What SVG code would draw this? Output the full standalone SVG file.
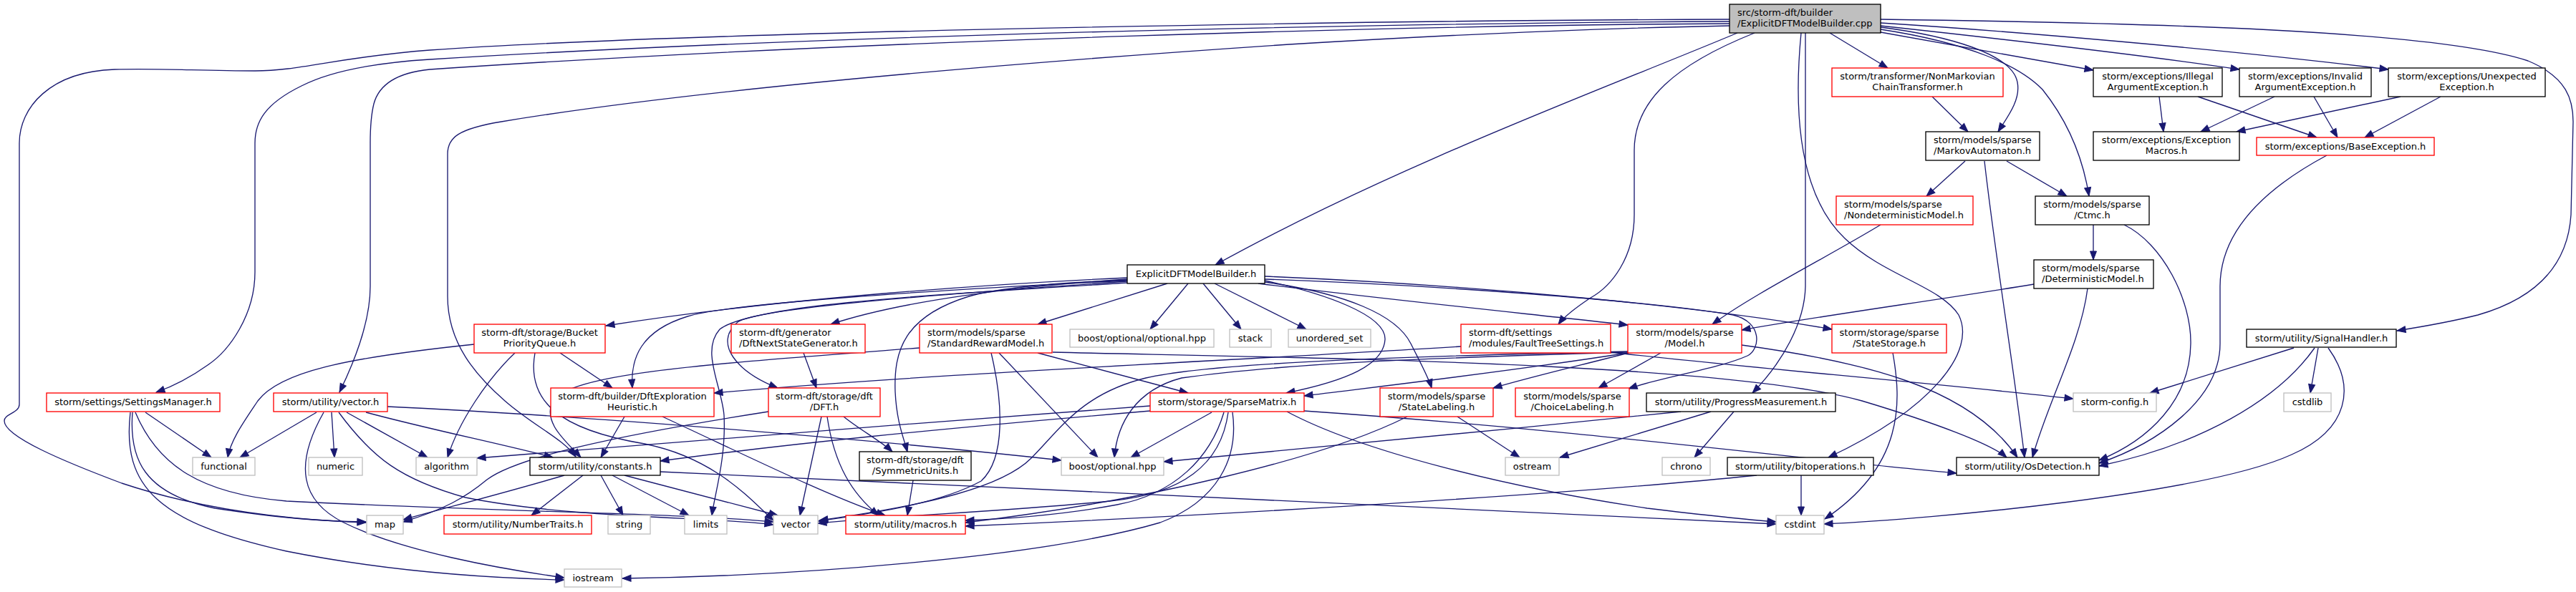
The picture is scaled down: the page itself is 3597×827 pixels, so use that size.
<svg xmlns="http://www.w3.org/2000/svg" width="3597" height="827" viewBox="0 0 3597 827">
<style>
text{font-family:"DejaVu Sans","Liberation Sans",sans-serif;font-size:13px;fill:#000}
.c{text-anchor:middle}
rect.b{fill:#fff;stroke:#000;stroke-width:1.33}
rect.r{fill:#fff;stroke:#ff0000;stroke-width:1.33}
rect.g{fill:#fff;stroke:#bfbfbf;stroke-width:1.33}
rect.root{fill:#bfbfbf;stroke:#000;stroke-width:1.33}
#edges path{fill:none;stroke:#191970;stroke-width:1.33;marker-end:url(#a)}
</style>
<defs>
<marker id="a" markerUnits="userSpaceOnUse" markerWidth="14" markerHeight="11" refX="12" refY="4.5" orient="auto" overflow="visible">
<path d="M0,0 L12,4.5 L0,9 z" fill="#191970" stroke="#191970" stroke-width="1"/>
</marker>
</defs>
<rect width="3597" height="827" fill="#fff"/>
<g id="edges">
<path d="M2426,46 C2250,120 1950,230 1697,370"/>
<path d="M2415,27 C2000,28 1000,42 600,70 C470,80 420,99 356,99 C280,99 220,95 160,97 C70,100 27,150 27,200 L27,565 C27,577 6,578 6,588 C6,610 90,645 170,675 C290,715 420,727 511,730"/>
<path d="M2415,30 C2000,32 1200,46 600,83 C520,88 460,100 421,120 C370,145 356,170 356,200 L356,380 C356,440 320,490 290,510 C265,528 240,540 218,548"/>
<path d="M2415,33 C2000,35 1200,56 600,97 C560,101 530,115 522,145 C517,165 517,190 517,200 L517,400 C517,450 495,505 474,548"/>
<path d="M2415,36 C2200,40 2000,50 1800,62 C1500,82 1000,120 700,170 C640,180 625,192 625,215 L625,414 C625,480 665,525 705,560 C745,595 785,612 804,638"/>
<path d="M2555,46 L2636,95"/>
<path d="M2626,38 C2720,50 2810,75 2817,115 C2822,140 2802,165 2790,184"/>
<path d="M2626,41 C2750,60 2820,92 2852,125 C2892,175 2910,230 2917,274"/>
<path d="M2626,45 L2923,98"/>
<path d="M2626,36 C2800,55 3000,78 3127,97"/>
<path d="M2626,32 C2800,43 3100,68 3335,97"/>
<path d="M2626,27 C3000,32 3400,42 3530,85 C3585,108 3593,140 3593,170 L3590,300 C3585,380 3530,420 3460,440 C3420,450 3385,456 3347,462"/>
<path d="M2450,46 C2340,90 2282,140 2282,210 L2282,300 C2282,360 2250,400 2221,416 C2200,430 2185,441 2176,453"/>
<path d="M2521,46 L2521,400 C2520,450 2490,505 2447,549"/>
<path d="M2515,46 C2505,150 2510,270 2576,333 C2630,385 2710,400 2735,440 C2760,490 2700,570 2553,639"/>
<path d="M1574,388 C1400,396 1100,415 846,455"/>
<path d="M1574,390 C1420,400 1260,420 1160,453"/>
<path d="M1574,392 C1300,405 1010,425 960,442 C895,462 880,500 883,542"/>
<path d="M1574,393 C1300,412 1060,430 1030,450 C995,480 1030,520 1086,542"/>
<path d="M1575,395 C1300,412 1050,425 1005,460 C978,490 1008,540 1011,580 C1014,640 998,690 994,720"/>
<path d="M1630,396 L1449,453"/>
<path d="M1659,396 L1606,460"/>
<path d="M1680,396 L1733,460"/>
<path d="M1696,396 L1824,460"/>
<path d="M1757,396 C1950,420 2150,440 2273,454"/>
<path d="M1766,386 C2100,400 2400,432 2558,460"/>
<path d="M1574,391 C1450,396 1385,405 1353,414 C1262,442 1248,490 1250,547 C1252,590 1262,612 1267,631"/>
<path d="M1766,392 C1850,410 1935,440 1934,474 C1932,510 1880,532 1796,549"/>
<path d="M1766,394 C1880,410 1950,440 1970,480 C1985,510 1995,528 1999,542"/>
<path d="M1766,390 C2000,398 2300,420 2420,440 C2462,450 2458,488 2440,497 C2400,515 2320,527 2274,543"/>
<path d="M2698,135 L2748,184"/>
<path d="M2744,225 L2690,274"/>
<path d="M2802,225 L2886,274"/>
<path d="M2771,225 C2785,350 2810,500 2827,639"/>
<path d="M2626,314 C2550,360 2450,410 2391,453"/>
<path d="M2923,314 L2923,363"/>
<path d="M2966,314 C3020,340 3060,420 3059,480 C3058,560 3000,615 2931,643"/>
<path d="M2840,397 C2700,420 2550,440 2432,461"/>
<path d="M2915,403 C2905,480 2860,560 2838,639"/>
<path d="M3015,135 L3021,184"/>
<path d="M3069,135 L3235,192"/>
<path d="M3176,135 L3073,184"/>
<path d="M3231,135 L3264,192"/>
<path d="M3352,135 L3123,184"/>
<path d="M3408,135 L3302,192"/>
<path d="M3249,217 C3150,270 3100,330 3100,400 L3100,480 C3100,560 3010,620 2931,647"/>
<path d="M3232,486 C3180,560 3070,622 2931,651"/>
<path d="M3203,486 L3002,549"/>
<path d="M3237,486 L3226,549"/>
<path d="M3251,486 C3290,540 3280,600 3200,635 C3080,690 2700,725 2547,732"/>
<path d="M2040,484 C1700,505 1300,522 997,549"/>
<path d="M2249,492 C2400,510 2700,535 2895,557"/>
<path d="M2274,493 C2200,512 2140,526 2085,542"/>
<path d="M2319,493 L2232,542"/>
<path d="M2273,493 C2100,520 1950,537 1821,553"/>
<path d="M2432,482 C2600,505 2750,540 2817,639"/>
<path d="M2273,492 C2000,500 1800,507 1650,528 C1585,545 1560,592 1556,639"/>
<path d="M2273,491 C2000,497 1700,505 1600,528 C1510,550 1480,600 1440,640 C1400,680 1300,705 1144,727"/>
<path d="M1449,493 L1659,549"/>
<path d="M1395,493 L1533,639"/>
<path d="M1284,486 C1000,508 800,520 772,560 C757,590 790,616 811,639"/>
<path d="M1384,493 C1400,560 1405,640 1370,672 C1310,705 1210,718 1143,728"/>
<path d="M1470,492 C1800,500 2400,505 2600,560 C2700,590 2780,620 2802,639"/>
<path d="M1692,576 L1579,639"/>
<path d="M1709,576 C1690,640 1640,690 1560,705 C1480,720 1400,725 1348,727"/>
<path d="M1715,576 C1705,650 1650,690 1550,700 C1400,715 1250,720 1142,731"/>
<path d="M1721,576 C1730,640 1700,700 1620,730 C1450,780 1100,805 869,808"/>
<path d="M1606,567 C1300,590 900,620 666,640"/>
<path d="M1606,574 C1300,600 1100,620 922,644"/>
<path d="M1821,574 C2200,600 2500,640 2732,661"/>
<path d="M1797,575 C1900,630 2100,680 2300,710 C2400,722 2440,726 2480,729"/>
<path d="M2389,575 L2178,639"/>
<path d="M2421,575 L2366,639"/>
<path d="M2347,575 C2100,600 1800,630 1625,645"/>
<path d="M2035,582 L2122,639"/>
<path d="M1965,582 C1850,640 1600,700 1348,730"/>
<path d="M2643,493 C2655,560 2660,650 2548,725"/>
<path d="M2515,664 L2515,720"/>
<path d="M2453,664 C2200,690 1700,720 1348,735"/>
<path d="M1275,671 L1267,720"/>
<path d="M1155,582 C1165,650 1190,690 1227,720"/>
<path d="M925,582 C1050,640 1150,690 1236,720"/>
<path d="M1178,582 C1200,600 1230,616 1246,631"/>
<path d="M1147,582 L1117,720"/>
<path d="M1073,575 C850,610 720,640 680,670 C650,695 620,712 563,729"/>
<path d="M1122,493 L1140,542"/>
<path d="M872,582 L839,639"/>
<path d="M788,664 C700,690 620,710 563,726"/>
<path d="M814,664 L742,720"/>
<path d="M839,664 L870,720"/>
<path d="M855,664 L962,720"/>
<path d="M872,664 L1086,720"/>
<path d="M922,659 C1400,680 2200,720 2480,732"/>
<path d="M747,493 C735,560 780,600 900,620 C1000,640 1050,700 1080,727"/>
<path d="M719,493 C680,530 640,590 625,639"/>
<path d="M782,493 L855,542"/>
<path d="M662,481 C480,500 390,520 360,560 C340,590 322,615 318,639"/>
<path d="M442,576 L335,639"/>
<path d="M463,576 L467,639"/>
<path d="M484,576 L597,639"/>
<path d="M511,576 C600,600 700,620 772,639"/>
<path d="M541,568 C800,580 1200,612 1482,643"/>
<path d="M452,576 C410,650 420,700 480,730 C560,770 700,795 788,807"/>
<path d="M473,576 C520,640 560,670 650,695 C800,725 1000,722 1080,733"/>
<path d="M203,576 L295,639"/>
<path d="M185,576 C180,640 200,690 300,710 C400,725 450,728 511,729"/>
<path d="M182,576 C170,680 220,730 400,770 C550,800 700,808 788,810"/>
<path d="M189,576 C220,650 280,690 400,700 C700,715 950,717 1080,729"/>
</g>
<g id="root"><rect class="root" x="2415" y="6" width="211" height="40"/><text x="2426" y="22">src/storm-dft/builder</text><text x="2426" y="37">/ExplicitDFTModelBuilder.cpp</text></g>
<g id="builder_h"><rect class="b" x="1574" y="370" width="192" height="26"/><text class="c" x="1670" y="387">ExplicitDFTModelBuilder.h</text></g>
<g id="nonmarkovian"><rect class="r" x="2558" y="95" width="239" height="40"/><text class="c" x="2677.5" y="111">storm/transformer/NonMarkovian</text><text class="c" x="2677.5" y="126">ChainTransformer.h</text></g>
<g id="markovautomaton"><rect class="b" x="2689" y="184" width="159" height="40"/><text x="2700" y="200">storm/models/sparse</text><text x="2700" y="215">/MarkovAutomaton.h</text></g>
<g id="nondeterministic"><rect class="r" x="2564" y="274" width="191" height="40"/><text x="2575" y="290">storm/models/sparse</text><text x="2575" y="305">/NondeterministicModel.h</text></g>
<g id="ctmc"><rect class="b" x="2842" y="274" width="159" height="40"/><text class="c" x="2921.5" y="290">storm/models/sparse</text><text class="c" x="2921.5" y="305">/Ctmc.h</text></g>
<g id="deterministic"><rect class="b" x="2840" y="363" width="167" height="40"/><text x="2851" y="379">storm/models/sparse</text><text x="2851" y="394">/DeterministicModel.h</text></g>
<g id="illegalarg"><rect class="b" x="2923" y="95" width="180" height="40"/><text class="c" x="3013" y="111">storm/exceptions/Illegal</text><text class="c" x="3013" y="126">ArgumentException.h</text></g>
<g id="exceptionmacros"><rect class="b" x="2923" y="184" width="204" height="40"/><text class="c" x="3025" y="200">storm/exceptions/Exception</text><text class="c" x="3025" y="215">Macros.h</text></g>
<g id="invalidarg"><rect class="b" x="3127" y="95" width="184" height="40"/><text class="c" x="3219" y="111">storm/exceptions/Invalid</text><text class="c" x="3219" y="126">ArgumentException.h</text></g>
<g id="unexpected"><rect class="b" x="3335" y="95" width="219" height="40"/><text class="c" x="3444.5" y="111">storm/exceptions/Unexpected</text><text class="c" x="3444.5" y="126">Exception.h</text></g>
<g id="baseexception"><rect class="r" x="3151" y="192" width="248" height="25"/><text class="c" x="3275" y="209">storm/exceptions/BaseException.h</text></g>
<g id="signalhandler"><rect class="b" x="3137" y="460" width="209" height="25"/><text class="c" x="3241.5" y="477">storm/utility/SignalHandler.h</text></g>
<g id="cstdlib"><rect class="g" x="3189" y="549" width="66" height="26"/><text class="c" x="3222" y="566">cstdlib</text></g>
<g id="stormconfig"><rect class="g" x="2895" y="549" width="116" height="26"/><text class="c" x="2953" y="566">storm-config.h</text></g>
<g id="osdetection"><rect class="b" x="2732" y="639" width="199" height="25"/><text class="c" x="2831.5" y="656">storm/utility/OsDetection.h</text></g>
<g id="bitoperations"><rect class="b" x="2412" y="639" width="204" height="25"/><text class="c" x="2514" y="656">storm/utility/bitoperations.h</text></g>
<g id="cstdint"><rect class="g" x="2480" y="720" width="67" height="26"/><text class="c" x="2513.5" y="737">cstdint</text></g>
<g id="progress"><rect class="b" x="2299" y="549" width="264" height="26"/><text class="c" x="2431" y="566">storm/utility/ProgressMeasurement.h</text></g>
<g id="statestorage"><rect class="r" x="2558" y="453" width="160" height="40"/><text class="c" x="2638" y="469">storm/storage/sparse</text><text class="c" x="2638" y="484">/StateStorage.h</text></g>
<g id="model"><rect class="r" x="2273" y="453" width="159" height="40"/><text class="c" x="2352.5" y="469">storm/models/sparse</text><text class="c" x="2352.5" y="484">/Model.h</text></g>
<g id="faulttree"><rect class="r" x="2040" y="453" width="209" height="40"/><text x="2051" y="469">storm-dft/settings</text><text x="2051" y="484">/modules/FaultTreeSettings.h</text></g>
<g id="unordered_set"><rect class="g" x="1799" y="460" width="115" height="25"/><text class="c" x="1856.5" y="477">unordered_set</text></g>
<g id="statelabeling"><rect class="r" x="1927" y="542" width="158" height="40"/><text class="c" x="2006" y="558">storm/models/sparse</text><text class="c" x="2006" y="573">/StateLabeling.h</text></g>
<g id="choicelabeling"><rect class="r" x="2116" y="542" width="159" height="40"/><text class="c" x="2195.5" y="558">storm/models/sparse</text><text class="c" x="2195.5" y="573">/ChoiceLabeling.h</text></g>
<g id="ostream"><rect class="g" x="2102" y="639" width="75" height="25"/><text class="c" x="2139.5" y="656">ostream</text></g>
<g id="chrono"><rect class="g" x="2321" y="639" width="67" height="25"/><text class="c" x="2354.5" y="656">chrono</text></g>
<g id="sparsematrix"><rect class="r" x="1606" y="549" width="215" height="26"/><text class="c" x="1713.5" y="566">storm/storage/SparseMatrix.h</text></g>
<g id="stdreward"><rect class="r" x="1284" y="453" width="185" height="40"/><text x="1295" y="469">storm/models/sparse</text><text x="1295" y="484">/StandardRewardModel.h</text></g>
<g id="optional_optional"><rect class="g" x="1494" y="460" width="201" height="25"/><text class="c" x="1594.5" y="477">boost/optional/optional.hpp</text></g>
<g id="stack"><rect class="g" x="1717" y="460" width="58" height="25"/><text class="c" x="1746" y="477">stack</text></g>
<g id="boost_optional"><rect class="g" x="1482" y="639" width="143" height="25"/><text class="c" x="1553.5" y="656">boost/optional.hpp</text></g>
<g id="symmetricunits"><rect class="b" x="1200" y="631" width="156" height="40"/><text class="c" x="1278" y="647">storm-dft/storage/dft</text><text class="c" x="1278" y="662">/SymmetricUnits.h</text></g>
<g id="macros"><rect class="r" x="1181" y="720" width="167" height="26"/><text class="c" x="1264.5" y="737">storm/utility/macros.h</text></g>
<g id="dft"><rect class="r" x="1073" y="542" width="156" height="40"/><text class="c" x="1151" y="558">storm-dft/storage/dft</text><text class="c" x="1151" y="573">/DFT.h</text></g>
<g id="nextstategen"><rect class="r" x="1021" y="453" width="187" height="40"/><text x="1032" y="469">storm-dft/generator</text><text x="1032" y="484">/DftNextStateGenerator.h</text></g>
<g id="exploration"><rect class="r" x="769" y="542" width="228" height="40"/><text class="c" x="883" y="558">storm-dft/builder/DftExploration</text><text class="c" x="883" y="573">Heuristic.h</text></g>
<g id="bucket"><rect class="r" x="662" y="453" width="183" height="40"/><text class="c" x="753.5" y="469">storm-dft/storage/Bucket</text><text class="c" x="753.5" y="484">PriorityQueue.h</text></g>
<g id="constants"><rect class="b" x="740" y="639" width="182" height="25"/><text class="c" x="831" y="656">storm/utility/constants.h</text></g>
<g id="algorithm"><rect class="g" x="581" y="639" width="85" height="25"/><text class="c" x="623.5" y="656">algorithm</text></g>
<g id="numbertraits"><rect class="r" x="620" y="720" width="206" height="26"/><text class="c" x="723" y="737">storm/utility/NumberTraits.h</text></g>
<g id="string"><rect class="g" x="849" y="720" width="59" height="26"/><text class="c" x="878.5" y="737">string</text></g>
<g id="limits"><rect class="g" x="956" y="720" width="59" height="26"/><text class="c" x="985.5" y="737">limits</text></g>
<g id="vector"><rect class="g" x="1080" y="720" width="62" height="26"/><text class="c" x="1111" y="737">vector</text></g>
<g id="iostream"><rect class="g" x="788" y="795" width="80" height="25"/><text class="c" x="828" y="812">iostream</text></g>
<g id="settingsmanager"><rect class="r" x="65" y="549" width="242" height="26"/><text class="c" x="186" y="566">storm/settings/SettingsManager.h</text></g>
<g id="vector_h"><rect class="r" x="382" y="549" width="159" height="26"/><text class="c" x="461.5" y="566">storm/utility/vector.h</text></g>
<g id="functional"><rect class="g" x="269" y="639" width="87" height="25"/><text class="c" x="312.5" y="656">functional</text></g>
<g id="numeric"><rect class="g" x="431" y="639" width="75" height="25"/><text class="c" x="468.5" y="656">numeric</text></g>
<g id="map"><rect class="g" x="512" y="720" width="51" height="26"/><text class="c" x="537.5" y="737">map</text></g>
</svg>
